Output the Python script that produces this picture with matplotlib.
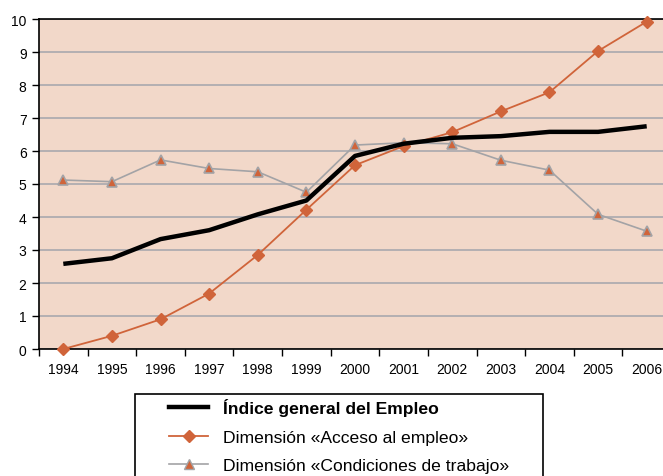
import matplotlib.pyplot as plt
import matplotlib.patches as mpatches
from matplotlib.lines import Line2D
import numpy as np

plt.rcParams['font.family'] = ['Liberation Sans', 'DejaVu Sans']

years = ['1994', '1995', '1996', '1997', '1998', '1999', '2000',
         '2001', '2002', '2003', '2004', '2005', '2006']
indice_general = [2.58, 2.75, 3.33, 3.60, 4.08, 4.50, 5.85, 6.22, 6.40, 6.45, 6.58, 6.58, 6.75]
acceso_empleo = [0.0, 0.40, 0.90, 1.68, 2.85, 4.22, 5.57, 6.15, 6.57, 7.20, 7.78, 9.03, 9.92]
condiciones_trabajo = [5.12, 5.07, 5.73, 5.47, 5.37, 4.75, 6.18, 6.25, 6.22, 5.72, 5.42, 4.08, 3.57]

labels = ['Índice general del Empleo',
          'Dimensión «Acceso al empleo»',
          'Dimensión «Condiciones de trabajo»']

orange = '#D0643A'
gray = '#A3A3A6'
bg = '#F2D8C9'

W, H = 663, 477
fig = plt.figure(figsize=(W / 100, H / 100), dpi=100)
ax = fig.add_axes([39 / W, 1 - 350 / H, (671 - 39) / W, 330 / H])
ax.set_facecolor(bg)

x = np.arange(len(years))
ax.plot(x, condiciones_trabajo, color=gray, lw=1.2, marker='^', ms=7,
        mfc=orange, mec=gray, mew=1.2, zorder=3, clip_on=False)
ax.plot(x, acceso_empleo, color=orange, lw=1.3, marker='D', ms=6,
        mfc=orange, mec=orange, zorder=4, clip_on=False)
ax.plot(x, indice_general, color='black', lw=3.2, zorder=5, solid_capstyle='butt')

ax.set_xlim(-0.5, len(years) - 0.5)
ax.set_ylim(0, 10)
ax.set_yticks(range(0, 11))
ax.yaxis.grid(True, color='#A9A9AE', lw=1.2)
ax.set_axisbelow(True)

ax.set_xticks(x)
ax.set_xticklabels(years)
ax.set_xticks(np.arange(-0.5, len(years)), minor=True)
ax.tick_params(axis='x', which='major', length=0, pad=9, labelsize=10)
ax.tick_params(axis='x', which='minor', length=5, width=1, direction='out')
ax.tick_params(axis='y', length=5, width=1, direction='out', pad=4, labelsize=10)

for side in ['top', 'left', 'bottom']:
    ax.spines[side].set_color('black')
    ax.spines[side].set_linewidth(1.2)
ax.spines['right'].set_visible(False)

# legend box below the plot
fig.patches.append(mpatches.Rectangle((135 / W, -0.1), (543 - 135) / W, 0.1 + 1 - 395 / H,
                                      transform=fig.transFigure, fill=False,
                                      edgecolor='black', lw=1.2))
handles = [
    Line2D([], [], color='black', lw=3.2),
    Line2D([], [], color=orange, lw=1.3, marker='D', ms=6, mfc=orange, mec=orange),
    Line2D([], [], color=gray, lw=1.2, marker='^', ms=7, mfc=orange, mec=gray),
]
leg = fig.legend(handles, labels, loc='upper left',
                 bbox_to_anchor=(169 / W, 1 - 399 / H), frameon=False,
                 fontsize=12.6, handlelength=2.25, handletextpad=0.85,
                 labelspacing=0.77, borderaxespad=0, borderpad=0)
leg.get_texts()[0].set_fontweight('bold')

fig.savefig('out.png', dpi=100)
